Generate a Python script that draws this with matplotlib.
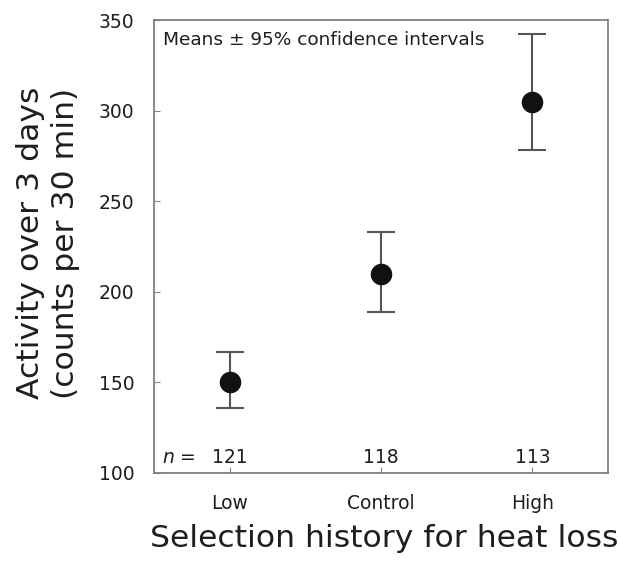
import matplotlib
matplotlib.use("Agg")
import matplotlib.pyplot as plt

plt.rcParams['font.family'] = ['DejaVu Sans']

groups = ["Low", "Control", "High"]
means = [150, 210, 305]
ci_low = [136, 189, 278]
ci_high = [167, 233, 342]
n_values = [121, 118, 113]
yticks = [100, 150, 200, 250, 300, 350]

W, H = 621, 565
fig = plt.figure(figsize=(W/100, H/100), dpi=100)
ax = fig.add_axes([154/W, 1-473/H, (608-154)/W, (473-20)/H])

xs = list(range(len(groups)))
yerr = [[m - l for m, l in zip(means, ci_low)], [h - m for m, h in zip(means, ci_high)]]
ax.errorbar(xs, means, yerr=yerr, fmt='o', color='#111111', ecolor='#555555',
            elinewidth=1.5, capsize=10, capthick=1.5, markersize=14.5, zorder=3)

ax.set_xlim(-0.5, 2.5)
ax.set_ylim(100, 350)
ax.set_yticks(yticks)
ax.set_xticks(xs)
ax.set_xticklabels(groups)

for s in ax.spines.values():
    s.set_color('#777777')
    s.set_linewidth(1.2)

tc = '#1e1e1e'
ax.tick_params(axis='both', direction='in', length=4, width=0.8, color='#888888',
               labelsize=13.5, labelcolor=tc)
ax.tick_params(axis='y', pad=14)
ax.tick_params(axis='x', pad=15)

ax.text(0.02, 0.975, "Means ± 95% confidence intervals", transform=ax.transAxes,
        ha='left', va='top', fontsize=13.3, color=tc)

for x, n in zip(xs, n_values):
    ax.text(x, 105.5, str(n), ha='center', va='baseline', fontsize=13.5, color=tc)
ax.text(-0.45, 105.5, "$n$ =", ha='left', va='baseline', fontsize=13.5, color=tc)

fig.text(384/W, 1-547/H, "Selection history for heat loss", ha='center', va='baseline',
         fontsize=22.6, color=tc)
fig.text(48/W, 1-243/H, "Activity over 3 days\n(counts per 30 min)", ha='center', va='center',
         rotation=90, fontsize=22.6, color=tc, linespacing=1.25)

fig.savefig("out.png", dpi=100)
